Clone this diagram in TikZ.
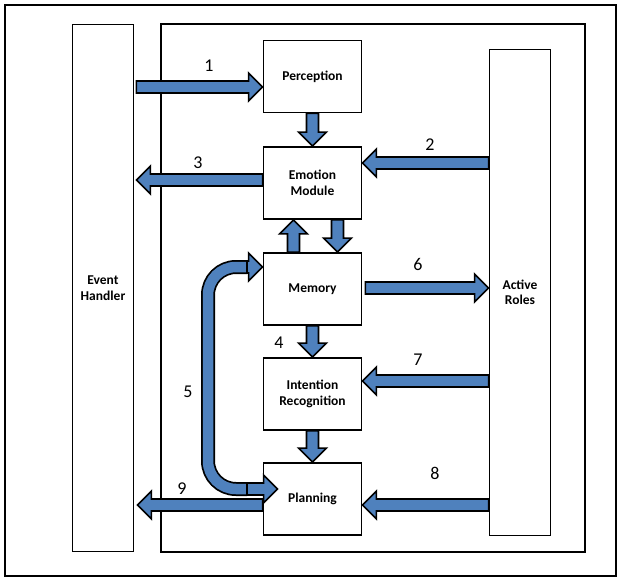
\documentclass[tikz,border=0pt]{standalone}
\usepackage{fontspec}
\setmainfont{Carlito}
\usetikzlibrary{calc}
\definecolor{flowblue}{RGB}{79,129,189}
\tikzset{
  box/.style={draw, line width=1.8pt, fill=white, align=center,
    font=\bfseries\fontsize{13.5}{15.5}\selectfont,
    minimum width=98pt, minimum height=72pt, inner sep=0pt},
  side/.style={box, minimum width=61pt},
  frame/.style={draw, line width=1.8pt},
  num/.style={font=\fontsize{18}{20}\selectfont},
  flow/.style={draw, line width=1.6pt, fill=flowblue,
    to path={let \p1=(\tikztostart), \p2=(\tikztotarget),
      \n1={veclen(\x2-\x1,\y2-\y1)}, \n2={atan2(\y2-\y1,\x2-\x1)} in
      [shift={(\p1)}, rotate=\n2]
      (0,-6) -- ({\n1-14},-6) -- ({\n1-14},-14) -- ({\n1},0)
      -- ({\n1-14},14) -- ({\n1-14},6) -- (0,6) -- cycle}},
  tube/.style={draw=black, line width=14pt, rounded corners=28pt,
    postaction={draw=flowblue, line width=10.5pt}},
}
\begin{document}
\begin{tikzpicture}[x=1pt,y=-1pt]
    \useasboundingbox (0,0) rectangle (624,583);
    \draw[frame] (5,5) rectangle (616,576);
    \draw[frame] (161,24) rectangle (585,552);

    \node[side, minimum height=527pt] (EH)  at (103,288)   {Event\\Handler};
    \node[side, minimum height=486pt] (Act) at (520,292.5) {Active\\Roles};

    \node[box] (Perc) at (312.5,76.5) {Perception};
    \node[box] (Emo)  at (312.5,183)  {Emotion\\Module};
    \node[box] (Mem)  at (312.5,289)  {Memory};
    \node[box] (Int)  at (312.5,394)  {Intention\\Recognition};
    \node[box] (Plan) at (312.5,499)  {Planning};

    % levels of the side arrows
    \coordinate (y1) at (0,87);
    \coordinate (y2) at (0,163);
    \coordinate (y3) at (0,180);
    \coordinate (y6) at (0,288);
    \coordinate (y7) at (0,381);
    \coordinate (y8) at (0,505);
    \coordinate (c5t) at (247,267);
    \coordinate (c5b) at (247,489);

    \draw[tube] (c5t) -- ++(-39,0) |- (c5b);

    \path[flow] ([xshift=2pt]EH.east |- y1) to (Perc.west |- y1);
    \path[flow] (Act.west |- y2) to (Emo.east |- y2);
    \path[flow] (Emo.west |- y3) to ([xshift=2pt]EH.east |- y3);
    \path[flow] ([xshift=3pt]Mem.east |- y6) to (Act.west |- y6);
    \path[flow] (Act.west |- y7) to (Int.east |- y7);
    \path[flow] (Act.west |- y8) to (Plan.east |- y8);
    \path[flow] (Plan.west |- y8) to ([xshift=3pt]EH.east |- y8);

    \path[flow] (Perc.south) to (Emo.north);
    \path[flow] ([xshift=-19pt]Mem.north) to ([xshift=-19pt]Emo.south);
    \path[flow] ([xshift=25pt]Emo.south) to ([xshift=25pt]Mem.north);
    \path[flow] (Mem.south) to (Int.north);
    \path[flow] (Int.south) to (Plan.north);

    \path[flow] (c5t) to (Mem.west |- c5t);
    \path[flow] (c5b) to ([xshift=15pt]Plan.west |- c5b);

    \node[num] (n1) at (209,66)  {1};
    \node[num] (n2) at (430,145) {2};
    \node[num] (n3) at (198,163) {3};
    \node[num] (n4) at (279,343) {4};
    \node[num] (n5) at (188,392) {5};
    \node[num] (n6) at (418,264) {6};
    \node[num] (n7) at (418,360) {7};
    \node[num] (n8) at (435,473) {8};
    \node[num] (n9) at (182,489) {9};
\end{tikzpicture}
\end{document}
